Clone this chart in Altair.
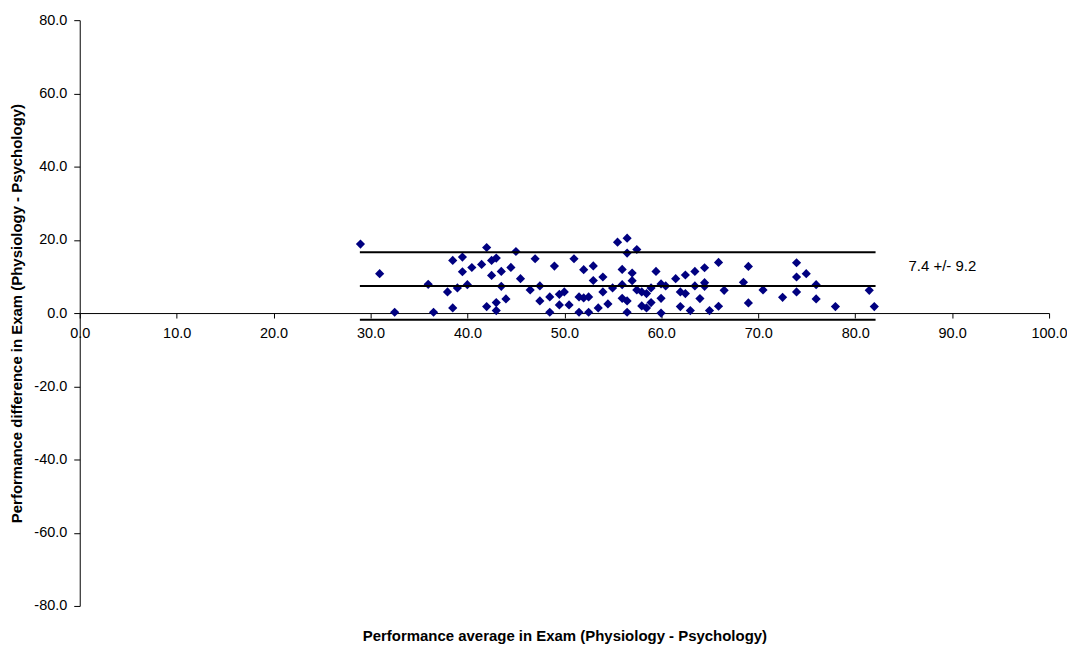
import altair as alt
import pandas as pd

# Bland-Altman style data
avg = [28.96, 30.94, 32.49, 35.95, 36.50, 37.94, 38.48, 38.48, 38.96, 39.48,
       39.48, 39.99, 40.45, 41.46, 41.98, 41.98, 42.49, 42.97, 42.49, 43.49,
       43.49, 42.97, 42.97, 43.97, 44.48, 45.00, 45.47, 46.47, 46.98, 47.47,
       47.47, 48.49, 48.49, 48.97, 49.48, 49.99, 49.48, 50.48, 50.99, 51.51,
       51.51, 51.99, 51.99, 52.50, 52.50, 52.98, 52.98, 53.49, 53.97, 53.97,
       54.49, 54.97, 55.48, 55.96, 55.96, 55.96, 56.47, 56.47, 56.47, 56.47,
       56.99, 56.99, 57.47, 57.47, 57.98, 57.98, 58.47, 58.47, 58.94, 58.94,
       59.45, 59.97, 59.97, 59.97, 60.45, 61.48, 61.96, 61.96, 62.48, 62.48,
       62.99, 63.46, 63.46, 63.98, 64.46, 64.46, 64.46, 64.97, 65.90, 65.90,
       66.48, 68.47, 68.98, 68.98, 70.49, 72.51, 73.95, 73.95, 73.95, 74.95,
       75.97, 75.97, 77.96, 81.45, 81.97]
diff = [18.83, 10.75, 0.22, 7.84, 0.22, 5.77, 14.37, 1.41, 6.86, 15.29,
        11.29, 7.76, 12.44, 13.28, 17.90, 1.77, 14.37, 15.02, 10.29, 11.37,
        7.29, 2.86, 0.68, 3.86, 12.46, 16.82, 9.39, 6.31, 14.83, 7.40,
        3.32, 4.41, 0.22, 12.84, 5.12, 5.77, 2.23, 2.23, 14.83, 4.41,
        0.22, 11.84, 4.14, 4.41, 0.22, 12.87, 8.90, 1.41, 9.85, 5.77,
        2.50, 6.86, 19.37, 11.92, 7.76, 4.03, 20.46, 16.38, 3.32, 0.22,
        10.94, 8.84, 17.36, 6.31, 5.77, 1.96, 5.31, 1.41, 6.86, 2.86,
        11.37, 7.95, 4.03, 0.00, 7.40, 9.39, 5.77, 1.77, 5.31, 10.39,
        0.68, 11.37, 7.40, 3.95, 12.38, 8.30, 7.29, 0.68, 13.82, 1.85,
        6.20, 8.38, 12.73, 2.78, 6.31, 4.30, 13.74, 9.85, 5.77, 10.75,
        7.76, 3.86, 1.77, 6.20, 1.77]

limit_values = [16.6, 7.4, -1.8]
line_start = 28.9
line_end = 82.1

note_text = ["7.4 +/- 9.2"]
note_x = [85.5]
note_y = [12.9]

x_ticks = list(range(0, 101, 10))
y_ticks = list(range(-80, 81, 20))

x_title = "Performance average in Exam (Physiology - Psychology)"
y_title = "Performance difference in Exam (Physiology - Psychology)"

points_df = pd.DataFrame({"avg": avg, "diff": diff})
lines_df = pd.DataFrame({"avg": [line_start] * len(limit_values),
                         "avg2": [line_end] * len(limit_values),
                         "diff": limit_values})
note_df = pd.DataFrame({"t": note_text, "avg": note_x, "diff": note_y})

FONT = "Liberation Sans"
LABEL_EXPR = "(datum.value < 0 ? '-' : '') + format(abs(datum.value), '.1f')"
x_scale = alt.Scale(domain=[0, 100], nice=False, zero=False)
y_scale = alt.Scale(domain=[-80, 80], nice=False, zero=False)

x_axis = alt.Axis(
    values=x_ticks, labelExpr=LABEL_EXPR, grid=False, offset=-294,
    domainColor="black", domainWidth=1, tickColor="black", tickSize=5, tickWidth=1,
    labelFontSize=14.5, labelColor="black", labelFont=FONT, labelPadding=9,
    labelFlush=False, labelOverlap=False,
    titleFont=FONT, titleFontSize=15, titleFontWeight="bold", titleColor="black",
    titleY=324, titleBaseline="middle",
)
y_axis = alt.Axis(
    values=y_ticks, labelExpr=LABEL_EXPR, grid=False,
    domainColor="black", domainWidth=1, tickColor="black", tickSize=6, tickWidth=1,
    labelFontSize=14.5, labelColor="black", labelFont=FONT, labelPadding=7,
    labelFlush=False, labelOverlap=False,
    titleFont=FONT, titleFontSize=15, titleFontWeight="bold", titleColor="black",
    titleX=-63, titleBaseline="middle",
)

X = alt.X("avg:Q", scale=x_scale, axis=x_axis, title=x_title)
Y = alt.Y("diff:Q", scale=y_scale, axis=y_axis, title=y_title)

points = alt.Chart(points_df).mark_point(
    shape="diamond", filled=True, size=85, color="#000080", opacity=1
).encode(x=X, y=Y)

rules = alt.Chart(lines_df).mark_rule(color="black", strokeWidth=2).encode(
    x=X, x2="avg2:Q", y=Y,
)

note = alt.Chart(note_df).mark_text(
    align="left", baseline="middle", fontSize=15, font=FONT, color="black"
).encode(x=X, y=Y, text="t:N")

chart = alt.layer(points, rules, note).properties(
    width=973, height=588,
    autosize=alt.AutoSizeParams(type="none"),
    padding={"left": 72, "top": 11, "right": 18, "bottom": 40},
    background="white",
).configure_view(stroke=None)

chart.save("out.html", embed_options={"renderer": "svg", "actions": False})
